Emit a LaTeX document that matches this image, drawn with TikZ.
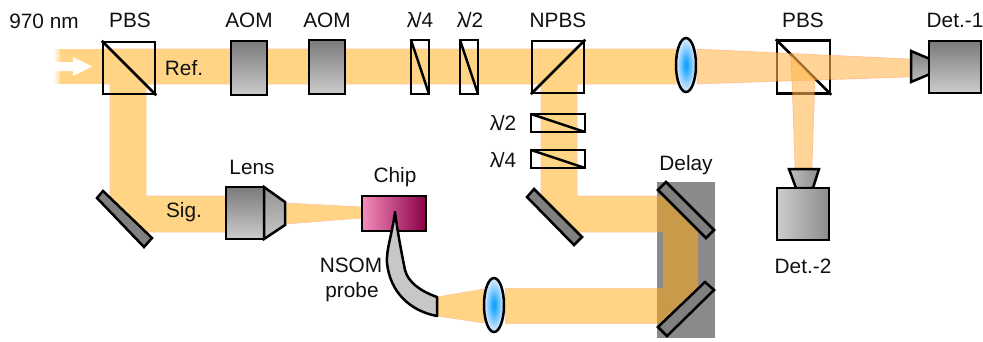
\documentclass[tikz,border=0pt]{standalone}
\usepackage{fontspec}
\setmainfont{Liberation Sans}
\usetikzlibrary{fadings}
\definecolor{beam}{HTML}{FFD585}
\definecolor{beamedge}{HTML}{FFC8A0}
\definecolor{beamdark}{HTML}{C89A4A}
\definecolor{beamover}{HTML}{FFB850}
\definecolor{mirrorgray}{HTML}{808080}
\definecolor{delaygray}{HTML}{8A8A8A}
\definecolor{labelink}{HTML}{111111}
\definecolor{chipl}{HTML}{F58CBC}
\definecolor{chipm}{HTML}{C2447F}
\definecolor{chipr}{HTML}{8A0046}
\definecolor{lensin}{HTML}{18A4FF}
\definecolor{lensout}{HTML}{C8E6FF}
\pgfdeclareradialshading{lensglow}{\pgfpoint{0bp}{0bp}}{color(0bp)=(lensin); color(3bp)=(lensin); color(22bp)=(lensout); color(50bp)=(lensout)}
\tikzfading[name=beamfade,left color=transparent!100,right color=transparent!0]
\tikzset{
  x=1pt,y=-1pt,
  lbl/.style={font=\fontsize{20.8}{24}\selectfont,text=labelink,inner sep=0pt,anchor=center},
  beampath/.style={fill=beam,draw=beamedge,line width=0.7pt},
  beamlight/.style={fill=beamover,fill opacity=0.6,draw=red!60!orange,draw opacity=0.2,line width=0.6pt},
  part/.style={draw=black,line width=2.5pt,line join=miter},
  mirrorbar/.style={part,fill=mirrorgray},
  plate/.style={part,fill=none},
  grayv/.style={part,top color=black!52,bottom color=black!20},
  grayh/.style={part,left color=black!20,right color=black!45},
  lensshape/.style={part,shading=lensglow},
}
\begin{document}
\begin{tikzpicture}
\useasboundingbox (0,0) rectangle (983,341);
\fill[white] (0,0) rectangle (983,341);
% delay stage
\fill[delaygray] (657,182) rectangle (715,338);
% beams
\fill[beam] (60,49) rectangle (102,84);
\fill[beam,path fading=beamfade] (53,49) rectangle (62,84);
\draw[beampath] (102,49) -- (676,49) -- (676,84) -- (577,84) -- (577,196) -- (657,196) -- (657,232) -- (574,232) -- (541,197) -- (541,84) -- (146,84) -- (146,196) -- (226,196) -- (226,232) -- (145,232) -- (110,197) -- (110,84) -- (102,84) -- cycle;
\draw[beampath] (285,203) -- (362,207) -- (362,218) -- (285,224) -- cycle;
\draw[beampath] (657,288) -- (505,288) -- (505,323) -- (657,323) -- cycle;
\draw[beampath] (484,289) -- (437,297) -- (437,316) -- (484,323) -- cycle;
\fill[beamdark] (657,196) -- (664,196) -- (698,230) -- (698,289) -- (664,323) -- (657,323) -- (657,288) -- (663,288) -- (663,232) -- (657,232) -- cycle;
% white input arrow
\fill[white] (53,62) -- (73,62) -- (73,57) -- (92,66.5) -- (73,76) -- (73,71) -- (53,71) -- cycle;
% first PBS
\node[name=pbsa,draw=black,line width=2.5pt,minimum size=52pt,inner sep=0pt] at (129,68) {};
\draw[part] (pbsa.north west) -- (pbsa.south east);
% AOMs
\draw[grayv] (231,41) rectangle (267,95);
\draw[grayv] (309,40) rectangle (345,94);
% wave plates
\draw[plate] (411,40) rectangle (429,94);
\draw[part] (411,40) -- (429,94);
\draw[plate] (460,40) rectangle (478,94);
\draw[part] (460,40) -- (478,94);
% NPBS
\node[name=npbs,draw=black,line width=2.5pt,minimum size=52pt,inner sep=0pt] at (558,67) {};
\draw[part] (npbs.south west) -- (npbs.north east);
\draw[plate] (531,114) rectangle (585,132);
\draw[part] (531,114) -- (585,132);
\draw[plate] (531,150) rectangle (585,168);
\draw[part] (531,150) -- (585,168);
% lenses
\draw[lensshape] (686,65) ellipse [x radius=10,y radius=27];
\draw[lensshape] (494,305) ellipse [x radius=10,y radius=27];
% mirrors
\draw[mirrorbar] (103,191) -- (97,198) -- (144,247) -- (152,238) -- cycle;
\draw[mirrorbar] (534,189) -- (527,197) -- (574,245) -- (582,237) -- cycle;
\draw[mirrorbar] (666,182) -- (658,190) -- (706,238) -- (714,230) -- cycle;
\draw[mirrorbar] (705,282) -- (714,290) -- (667,336) -- (658,327) -- cycle;
% objective
\draw[grayv] (226,187) rectangle (264,239);
\draw[part,top color=black!42,bottom color=black!22] (264,187) -- (285,202) -- (285,225) -- (264,239) -- cycle;
% chip
\draw[part,left color=chipl,middle color=chipm,right color=chipr] (362,196) rectangle (426,231);
% probe
\draw[part,fill=black!22,line join=round] (395,212) .. controls (392,235) and (386,250) .. (387,263) .. controls (390,292) and (410,311) .. (437,316) -- (437,297) .. controls (420,291) and (408,282) .. (405,270) .. controls (402,255) and (398,235) .. (395,212) -- cycle;
% second PBS with converging beam
\node[name=pbsb,draw=black,line width=2.5pt,minimum size=53pt,inner sep=0pt] at (803.5,67) {};
\draw[part] (pbsb.north west) -- (pbsb.south east);
\draw[beamlight] (697,49) -- (911,59) -- (911,77) -- (697,84) -- cycle;
\draw[beamlight] (791,55) -- (815,80) -- (812,168) -- (795,168) -- cycle;
% detectors
\draw[part,top color=black!50,bottom color=black!25] (911,51) -- (930,59) -- (930,74) -- (911,82) -- cycle;
\draw[grayv] (929,41) rectangle (981,93);
\draw[part,left color=black!25,right color=black!45] (789,169) -- (819,169) -- (813,188) -- (796,188) -- cycle;
\draw[grayh] (777,188) rectangle (829,240);
% labels
\node[lbl] (t970) at (44,21) {970 nm};
\node[lbl] (tpbsa) at (130,20) {PBS};
\node[lbl] (taoma) at (249,20) {AOM};
\node[lbl] (taomb) at (327,20) {AOM};
\node[lbl] (tqa) at (420,20) {λ\kern-1.5pt/4};
\node[lbl] (tha) at (470,20) {λ\kern-1.5pt/2};
\node[lbl] (tnpbs) at (558,20) {NPBS};
\node[lbl] (tpbsb) at (803,20) {PBS};
\node[lbl] (tdeta) at (955,20) {Det.-1};
\node[lbl] (tref) at (184,68) {Ref.};
\node[lbl] (tsig) at (184,212) {Sig.};
\node[lbl] (tlens) at (252,167) {Lens};
\node[lbl] (tchip) at (395,177) {Chip};
\node[lbl] (thb) at (503,123) {λ\kern-1.5pt/2};
\node[lbl] (tqb) at (503,160) {λ\kern-1.5pt/4};
\node[lbl] (tdelay) at (686,165) {Delay};
\node[lbl] (tdetb) at (803,266) {Det.-2};
\node[lbl] (tnsom) at (351,265) {NSOM};
\node[lbl] (tprobe) at (352,292) {probe};
\end{tikzpicture}
\end{document}
